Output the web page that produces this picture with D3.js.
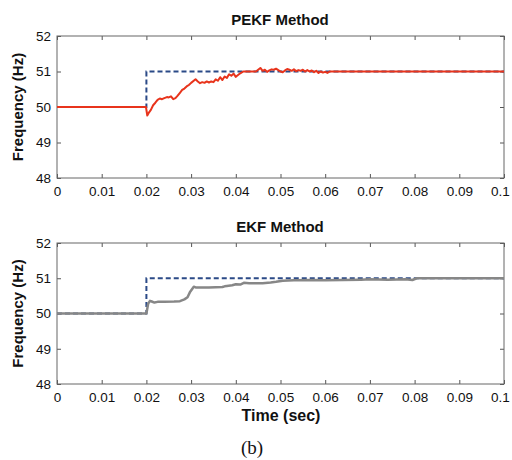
<!DOCTYPE html>
<html>
<head>
<meta charset="utf-8">
<script src="https://cdn.jsdelivr.net/npm/d3@7"></script>
<style>
body { margin: 0; background: #fff; }
text { font-family: "Liberation Sans", Arial, sans-serif; fill: #111; }
.tick text { font-size: 13.5px; }
.title { font-size: 15px; font-weight: bold; }
.ylab { font-size: 15px; font-weight: bold; }
</style>
</head>
<body>
<svg id="chart" width="512" height="460"></svg>
<script>
'use strict';
//Reference step: 50 Hz then 51 Hz from 0.02 s.
const refT = [0, 0.02, 0.02, 0.1];
const refF = [50, 50, 51, 51];
//PEKF estimate (red).
const pekfT = [0, 0.0199, 0.0202, 0.0206, 0.021, 0.0215, 0.022, 0.0225, 0.023, 0.0235, 0.024, 0.0246, 0.025, 0.0255, 0.026, 0.0265, 0.027, 0.0275, 0.028, 0.0285, 0.029, 0.0295, 0.03, 0.031, 0.0315, 0.032, 0.0325, 0.033, 0.0335, 0.034, 0.0345, 0.035, 0.0355, 0.036, 0.0365, 0.037, 0.0375, 0.038, 0.0385, 0.039, 0.0395, 0.04, 0.0405, 0.041, 0.0417, 0.043, 0.0445, 0.0455, 0.046, 0.0465, 0.047, 0.0475, 0.048, 0.0485, 0.049, 0.0495, 0.05, 0.0505, 0.051, 0.0515, 0.052, 0.0525, 0.053, 0.0535, 0.054, 0.0545, 0.055, 0.0555, 0.056, 0.0565, 0.057, 0.0575, 0.058, 0.0585, 0.059, 0.0595, 0.06, 0.0605, 0.061, 0.062, 0.1];
const pekfF = [50, 50, 49.76, 49.85, 49.92, 50.05, 50.12, 50.2, 50.24, 50.22, 50.25, 50.28, 50.27, 50.3, 50.22, 50.25, 50.32, 50.4, 50.48, 50.52, 50.58, 50.62, 50.68, 50.78, 50.72, 50.67, 50.7, 50.68, 50.72, 50.69, 50.72, 50.7, 50.78, 50.74, 50.84, 50.76, 50.86, 50.82, 50.92, 50.88, 50.94, 50.85, 50.9, 50.95, 51.0, 51.0, 51.0, 51.1, 51.02, 51.05, 50.99, 51.03, 51.06, 51.05, 51.08, 51.04, 51.0, 50.98, 51.03, 51.07, 51.05, 51.02, 51.06, 51.01, 51.04, 51.02, 51.05, 51.0, 51.04, 51.0, 51.03, 50.98, 51.02, 50.96, 51.0, 50.97, 50.99, 50.96, 51.0, 51.0, 51.0];
//EKF estimate (gray).
const ekfT = [0, 0.02, 0.0204, 0.0208, 0.0212, 0.0218, 0.0225, 0.024, 0.0262, 0.0275, 0.0285, 0.0292, 0.0298, 0.0306, 0.031, 0.034, 0.037, 0.0375, 0.038, 0.0392, 0.04, 0.041, 0.0418, 0.043, 0.046, 0.0478, 0.049, 0.0505, 0.053, 0.057, 0.06, 0.064, 0.068, 0.07, 0.074, 0.078, 0.0795, 0.0805, 0.1];
const ekfF = [50, 50, 50.28, 50.36, 50.34, 50.31, 50.33, 50.33, 50.34, 50.35, 50.4, 50.46, 50.62, 50.76, 50.74, 50.74, 50.75, 50.77, 50.78, 50.8, 50.83, 50.82, 50.87, 50.86, 50.86, 50.88, 50.9, 50.93, 50.94, 50.95, 50.94, 50.95, 50.96, 50.97, 50.96, 50.97, 50.95, 51.0, 51.0];
const xTicks = [0, 0.01, 0.02, 0.03, 0.04, 0.05, 0.06, 0.07, 0.08, 0.09, 0.1];
const yTicks = [48, 49, 50, 51, 52];

const svg = d3.select('#chart');
const x = d3.scaleLinear().domain([0, 0.1]).range([57, 504]);

function panel(top, bottom, title, estT, estF, estColor, estWidth) {
	const y = d3.scaleLinear().domain([48, 52]).range([bottom, top]);
	const g = svg.append('g');
	const zip = (ts, fs) => ts.map((t, i) => [t, fs[i]]);
	const line = d3.line().x(d => x(d[0])).y(d => y(d[1]));
	//Axes with inward ticks on all four sides.
	const xb = g.append('g').attr('transform', `translate(0,${bottom})`)
		.call(d3.axisBottom(x).tickValues(xTicks).tickSizeInner(-4).tickSizeOuter(0).tickPadding(8).tickFormat(d => d === 0 ? '0' : d3.format('.2~f')(d)));
	//Keep the last label inside the window.
	xb.selectAll('.tick text').filter(d => d === 0.1).attr('dx', '-4px');
	g.append('g').attr('transform', `translate(0,${top})`)
		.call(d3.axisTop(x).tickValues(xTicks).tickSizeInner(-4).tickSizeOuter(0).tickFormat(''));
	g.append('g').attr('transform', 'translate(57,0)')
		.call(d3.axisLeft(y).tickValues(yTicks).tickSizeInner(-4).tickSizeOuter(0).tickPadding(6).tickFormat(d3.format('d')));
	g.append('g').attr('transform', 'translate(504,0)')
		.call(d3.axisRight(y).tickValues(yTicks).tickSizeInner(-4).tickSizeOuter(0).tickFormat(''));
	g.selectAll('.domain').remove();
	g.selectAll('.tick line').attr('stroke', '#555');
	g.append('rect')
		.attr('x', 57).attr('y', top)
		.attr('width', 447).attr('height', bottom - top)
		.attr('fill', 'none').attr('stroke', '#666').attr('stroke-width', 1);
	//Reference and estimate.
	g.append('path').datum(zip(refT, refF))
		.attr('d', line).attr('fill', 'none')
		.attr('stroke', '#2b4a87').attr('stroke-width', 2).attr('stroke-dasharray', '5,3');
	g.append('path').datum(zip(estT, estF))
		.attr('d', line).attr('fill', 'none')
		.attr('stroke', estColor).attr('stroke-width', estWidth).attr('stroke-linejoin', 'round');
	g.append('text').attr('class', 'title')
		.attr('x', 280).attr('y', top - 11).attr('text-anchor', 'middle').text(title);
	g.append('text').attr('class', 'ylab')
		.attr('transform', `translate(23,${(top + bottom) / 2}) rotate(-90)`)
		.attr('text-anchor', 'middle').text('Frequency (Hz)');
}

panel(36, 178, 'PEKF Method', pekfT, pekfF, '#e8341c', 2);
panel(243, 384, 'EKF Method', ekfT, ekfF, '#878787', 2.5);

svg.append('text').attr('class', 'ylab')
	.attr('x', 281).attr('y', 421).attr('text-anchor', 'middle').style('font-size', '16px').text('Time (sec)');
svg.append('text')
	.attr('x', 252).attr('y', 454).attr('text-anchor', 'middle')
	.style('font-family', '"Liberation Serif", "Times New Roman", serif').style('font-size', '19px')
	.text('(b)');
</script>
</body>
</html>
